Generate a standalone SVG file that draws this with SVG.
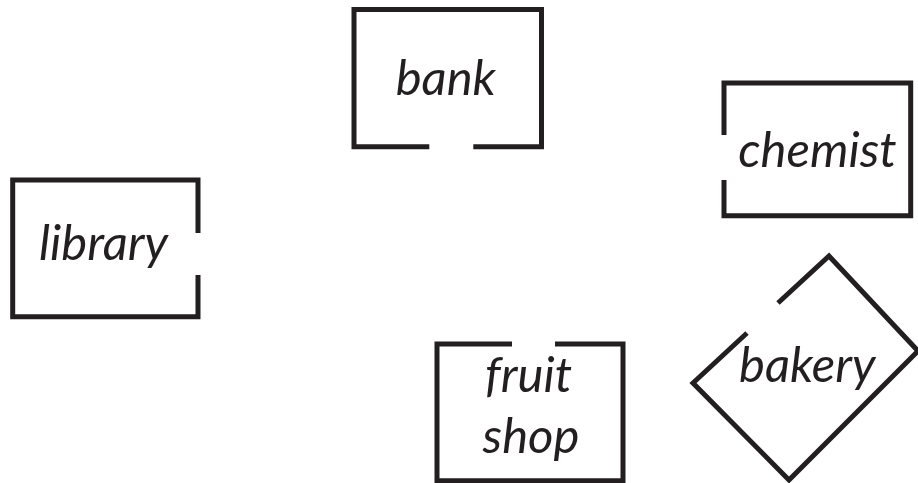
<svg xmlns="http://www.w3.org/2000/svg" width="918" height="483" viewBox="0 0 918 483">
<style>
.wall{fill:none;stroke:#231f20;stroke-width:5;stroke-linejoin:miter;stroke-linecap:butt}
.lbl{font-family:Lato,"Open Sans","Liberation Sans",sans-serif;font-style:italic;font-size:49px;fill:#231f20;text-anchor:middle}
</style>
<rect width="918" height="483" fill="#ffffff"/>
<g id="bank">
<path class="wall" d="M429.3,146.7 H354 V9.5 H541.5 V146.7 H473.3"/>
<text class="lbl" x="445.8" y="95">bank</text>
</g>
<g id="chemist">
<path class="wall" d="M724,135 V83 H910.7 V215.7 H724 V180"/>
<text class="lbl" x="817.5" y="166.7">chemist</text>
</g>
<g id="library">
<path class="wall" d="M198,233 V180 H12.7 V316.7 H198 V275"/>
<text class="lbl" x="103.5" y="260">library</text>
</g>
<g id="fruit-shop">
<path class="wall" d="M512,344 H437 V480.7 H623 V344 H555"/>
<text class="lbl" x="528.5" y="391.7">fruit</text>
<text class="lbl" x="531" y="453">shop</text>
</g>
<g id="bakery">
<path class="wall" d="M778,303 L829,256 L918,351 L789,480 L693,383 L747,333"/>
<text class="lbl" x="807.3" y="381.7">bakery</text>
</g>
<g id="connectors"></g>
</svg>
